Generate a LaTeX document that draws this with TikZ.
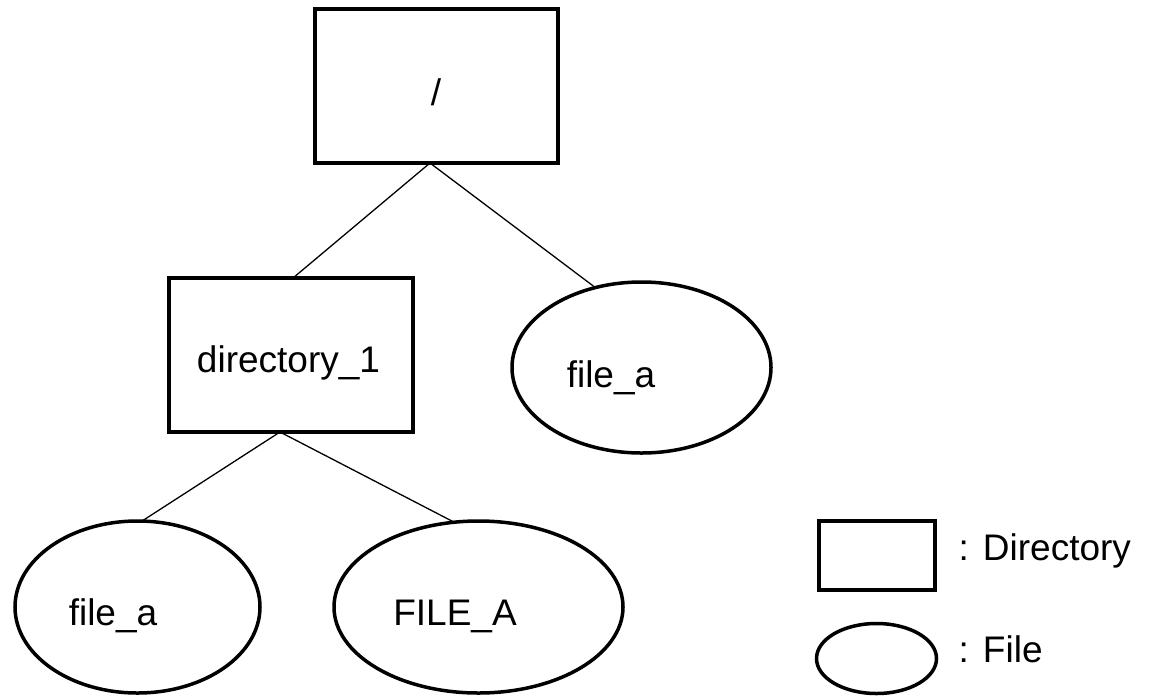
\documentclass[tikz,border=0pt]{standalone}
\usepackage{fontspec}
\setmainfont{Liberation Sans}
\usetikzlibrary{shapes.geometric}
\tikzset{
  dirbox/.style={draw=black, line width=4pt, rectangle, inner sep=0pt, outer sep=0pt},
  filebox/.style={draw=black, line width=3.5pt, ellipse, inner sep=0pt, outer sep=0pt},
  lbl/.style={anchor=base, inner sep=0pt, font=\fontsize{37pt}{44pt}\selectfont},
  lgd/.style={anchor=base west, inner sep=0pt, font=\fontsize{37pt}{44pt}\selectfont},
  conn/.style={draw=black, line width=1.3pt}
}
\begin{document}
\begin{tikzpicture}[x=1pt, y=-1pt]
\useasboundingbox (0,0) rectangle (1155,699);
% shapes
\node[dirbox, minimum width=243pt, minimum height=154pt] (root) at (436.5,86) {};
\node[dirbox, minimum width=244pt, minimum height=154pt] (dir) at (291,355) {};
\node[filebox, minimum width=259pt, minimum height=171pt] (fr) at (641.5,367.5) {};
\node[filebox, minimum width=245pt, minimum height=172pt] (fa) at (137.5,607) {};
\node[filebox, minimum width=289pt, minimum height=172pt] (fA) at (478.5,607) {};
% legend shapes
\node[dirbox, minimum width=116pt, minimum height=69pt] (lgdir) at (877,555.5) {};
\node[filebox, minimum width=120pt, minimum height=70pt] (lgfile) at (876.5,658.5) {};
% labels
\node[lbl] (troot) at (436,105) {/};
\node[lbl] (tdir) at (288.5,372) {directory\_1};
\node[lbl] (tfr) at (611,387) {file\_a};
\node[lbl] (tfa) at (113,625) {file\_a};
\node[lbl] (tfA) at (455,625) {FILE\_A};
\node[lgd] (tlgdir) at (958.5,560) {:\hspace{14pt}Directory};
\node[lgd] (tlgfile) at (958.5,662) {:\hspace{14pt}File};
% connectors
\draw[conn] ([xshift=-6.5pt]root.south) -- ([xshift=2pt]dir.north);
\draw[conn] ([xshift=-6.5pt]root.south) -- (fr.120);
\draw[conn] ([xshift=-11pt]dir.south) -- (fa.87);
\draw[conn] ([xshift=-11pt]dir.south) -- (fA.106);
\end{tikzpicture}
\end{document}
